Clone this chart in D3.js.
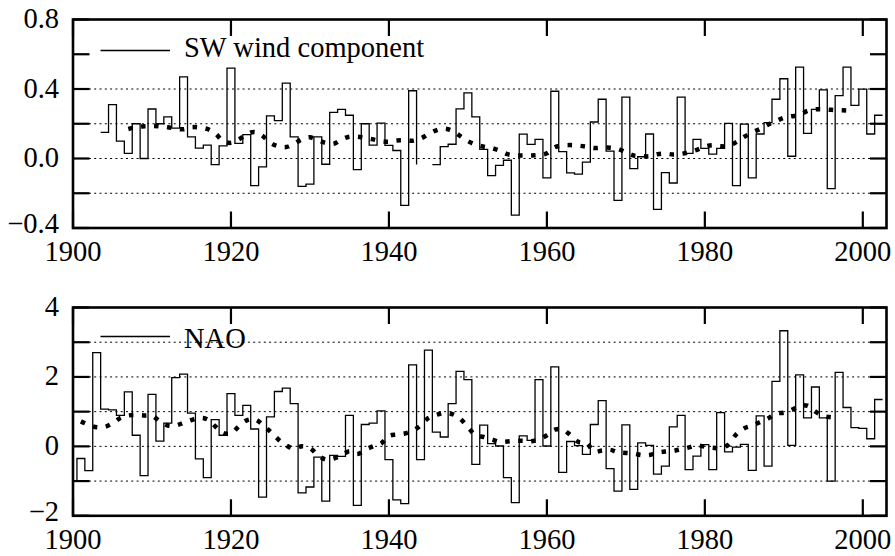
<!DOCTYPE html>
<html>
<head>
<meta charset="utf-8">
<script src="https://cdn.jsdelivr.net/npm/d3@7"></script>
<style>
  body { margin: 0; background: #fff; }
</style>
</head>
<body>
<script>
// yearly SW wind component (null = missing year)
const swStart = 1904;
const swValues = [
  0.15, 0.31, 0.10, 0.03, 0.20, 0.00, 0.285, 0.20, 0.24, 0.175,   // 1904-1913
  0.47, 0.125, 0.06, 0.077, -0.035, 0.073, 0.52, 0.087, 0.137, -0.156, // 1914-1923
  -0.048, 0.245, 0.218, 0.434, 0.125, -0.16, -0.148, 0.125, -0.033, 0.266, // 1924-1933
  0.283, 0.249, -0.064, 0.20, 0.077, 0.204, 0.075, 0.046, -0.27, 0.39, // 1934-1943
  null, null, -0.035, 0.068, 0.082, 0.286, 0.378, 0.24, 0.052, -0.099, // 1944-1953
  -0.04, -0.01, -0.326, 0.14, 0.081, 0.11, -0.112, 0.387, 0.04, -0.083, // 1954-1963
  -0.09, -0.021, 0.21, 0.341, 0.042, -0.241, 0.353, -0.058, 0.01, 0.141, // 1964-1973
  -0.293, -0.081, -0.141, 0.353, 0.029, 0.11, 0.058, 0.025, 0.058, 0.202, // 1974-1983
  -0.156, 0.198, -0.112, 0.141, 0.206, 0.341, 0.459, 0.013, 0.526, 0.145, // 1984-1993
  0.283, 0.395, -0.173, 0.362, 0.526, 0.306, 0.399, 0.141, 0.249        // 1994-2002
];

// smoothed SW wind component
const swSmoothStart = 1907;
const swSmooth = [
  0.17, 0.18, 0.185, 0.187, 0.185, 0.18, 0.172, 0.168, 0.18, 0.178,   // 1907-1916
  0.17, 0.145, 0.10, 0.09, 0.11, 0.14, 0.153, 0.13, 0.09, 0.07,       // 1917-1926
  0.066, 0.085, 0.11, 0.122, 0.105, 0.09, 0.085, 0.11, 0.125, 0.125,  // 1927-1936
  0.118, 0.11, 0.10, 0.097, 0.104, 0.105, 0.102, 0.115, 0.14, 0.162,  // 1937-1946
  0.172, 0.16, 0.13, 0.10, 0.08, 0.068, 0.06, 0.045, 0.025, 0.018,    // 1947-1956
  0.017, 0.017, 0.02, 0.03, 0.065, 0.075, 0.077, 0.074, 0.068, 0.06,  // 1957-1966
  0.062, 0.062, 0.055, 0.035, 0.017, 0.013, 0.013, 0.025, 0.028, 0.023, // 1967-1976
  0.027, 0.036, 0.05, 0.068, 0.077, 0.07, 0.072, 0.095, 0.125, 0.15,  // 1977-1986
  0.17, 0.195, 0.215, 0.235, 0.243, 0.25, 0.275, 0.283, 0.283, 0.28,  // 1987-1996
  0.278, 0.276, 0.275                                                 // 1997-1999
];

// yearly NAO index
const naoStart = 1900;
const naoValues = [
  -1.0, -0.35, -0.70, 2.70, 1.07, 1.05, 0.89, 1.57, 0.32, -0.84,      // 1900-1909
  1.50, 0.15, 0.67, 1.98, 2.08, 0.96, -0.36, -0.90, 0.77, 0.32,       // 1910-1919
  1.52, 0.89, 1.18, 0.50, -1.46, 0.85, 1.58, 1.68, 1.23, -1.34,       // 1920-1929
  -1.17, -0.31, -1.58, -0.26, -0.29, 0.89, -1.70, 0.63, 0.67, 1.02,   // 1930-1939
  -0.38, -1.54, -1.65, 2.35, -0.38, 2.77, 0.41, 0.27, 1.23, 2.16,     // 1940-1949
  1.92, -0.52, 0.61, 0.08, 0.01, -0.90, -1.62, 0.30, 0.17, 1.92,      // 1950-1959
  0.01, 2.29, -0.75, 0.14, 0.02, -0.23, 0.63, 1.32, -0.64, -1.29,     // 1960-1969
  0.62, -1.24, 0.10, 0.03, -0.80, -0.57, 0.56, 0.89, -0.67, -0.28,    // 1970-1979
  0.05, -0.67, 0.97, -0.16, -0.02, 0.06, -0.69, 0.88, -0.57, 1.87,    // 1980-1989
  3.33, 0.03, 2.06, 0.82, 1.71, 0.82, -1.00, 2.13, 1.12, 0.54,        // 1990-1999
  0.52, 0.22, 1.35                                                    // 2000-2002
];

// smoothed NAO
const naoSmoothStart = 1901;
const naoSmooth = [
  0.72, 0.62, 0.55, 0.56, 0.66, 0.82, 0.89, 0.90, 0.89, 0.88,         // 1901-1910
  0.72, 0.60, 0.60, 0.68, 0.76, 0.82, 0.78, 0.58, 0.39, 0.37,         // 1911-1920
  0.58, 0.75, 0.78, 0.63, 0.42, 0.20, 0.03, -0.07, 0.0, -0.05,        // 1921-1930
  -0.25, -0.38, -0.35, -0.26, -0.14, -0.22, -0.10, 0.0, 0.08, 0.30,   // 1931-1940
  0.34, 0.37, 0.45, 0.60, 0.82, 0.91, 0.96, 0.93, 0.80, 0.55,         // 1941-1950
  0.32, 0.27, 0.20, 0.13, 0.14, 0.16, 0.16, 0.15, 0.20, 0.32,         // 1951-1960
  0.48, 0.49, 0.32, 0.13, 0.10, -0.15, -0.12, -0.10, -0.17, -0.19,    // 1961-1970
  -0.21, -0.25, -0.25, -0.18, -0.15, -0.13, -0.08, -0.03, 0.03, -0.01, // 1971-1980
  -0.04, -0.05, 0.05, 0.35, 0.52, 0.60, 0.70, 0.80, 0.95, 0.97,       // 1981-1990
  1.05, 1.17, 1.17, 1.00, 0.87, 0.84, 0.82                            // 1991-1997
];

const xTicks = [1900, 1920, 1940, 1960, 1980, 2000];
const swTicks = [-0.4, -0.2, 0.0, 0.2, 0.4, 0.6, 0.8];
const swTickLabels = [-0.4, 0.0, 0.4, 0.8];
const swGrid = [-0.2, 0.0, 0.2, 0.4];
const naoTicks = [-2, -1, 0, 1, 2, 3, 4];
const naoTickLabels = [-2, 0, 2, 4];
const naoGrid = [-1, 0, 1, 2, 3];

const width = 895, height = 556;
const left = 73, right = 886.5;
const serif = "Liberation Serif";
const fontSize = 28.5;

const svg = d3.select("body").append("svg")
    .attr("width", width)
    .attr("height", height);

const x = d3.scaleLinear().domain([1900, 2003]).range([left, right]);

function toPoints(start, values) {
  return values.map((v, i) => ({year: start + i, value: v}));
}

// gnuplot-like histeps path, vertical drop before a gap, then restart
function stepPath(points, y) {
  let p = "";
  let prev = null;
  points.forEach(d => {
    if (d.value === null) return;
    const x0 = x(d.year - 0.5), x1 = x(d.year + 0.5), yy = y(d.value);
    if (prev === null) {
      p += "M" + x0 + "," + yy;
    } else if (d.year === prev.year + 1) {
      p += "V" + yy;
    } else {
      p += "V" + yy + "M" + x0 + "," + yy;
    }
    p += "H" + x1;
    prev = d;
  });
  return p;
}

function drawPanel(opts) {
  const top = opts.top, bottom = opts.bottom;
  const y = d3.scaleLinear().domain(opts.domain).range([bottom, top]);
  const g = svg.append("g");

  const clipId = "clip" + opts.name;
  svg.append("clipPath").attr("id", clipId)
    .append("rect")
      .attr("x", left).attr("y", top)
      .attr("width", right - left).attr("height", bottom - top);

  // dotted grid
  g.append("g").selectAll("line")
      .data(opts.grid)
      .enter()
      .append("line")
        .attr("x1", left).attr("x2", right)
        .attr("y1", d => y(d)).attr("y2", d => y(d))
        .attr("stroke", "#000")
        .attr("stroke-width", 1)
        .attr("stroke-dasharray", "2,3.3");

  // step series
  g.append("path")
      .attr("d", stepPath(toPoints(opts.start, opts.values), y))
      .attr("clip-path", "url(#" + clipId + ")")
      .attr("fill", "none")
      .attr("stroke", "#000")
      .attr("stroke-width", 1.3);

  // smoothed, thick dotted
  const line = d3.line()
      .x(d => x(d.year))
      .y(d => y(d.value))
      .curve(d3.curveCatmullRom);
  g.append("path")
      .attr("d", line(toPoints(opts.smoothStart, opts.smooth)))
      .attr("fill", "none")
      .attr("stroke", "#000")
      .attr("stroke-width", 4.5)
      .attr("stroke-dasharray", "4.5,8.5");

  // legend
  g.append("line")
      .attr("x1", 100.5).attr("x2", 170)
      .attr("y1", top + opts.legendDy).attr("y2", top + opts.legendDy)
      .attr("stroke", "#000")
      .attr("stroke-width", 1.3);
  g.append("text")
      .attr("x", 184)
      .attr("y", top + opts.legendTextDy)
      .attr("font-family", serif)
      .attr("font-size", fontSize)
      .text(opts.label);

  // ticks, inward on all four sides
  const tl = 16.5;
  const ticks = g.append("g").attr("stroke", "#000").attr("stroke-width", 2.2);
  opts.ticks.forEach(t => {
    ticks.append("line").attr("x1", left).attr("x2", left + tl)
        .attr("y1", y(t)).attr("y2", y(t));
    ticks.append("line").attr("x1", right - tl).attr("x2", right)
        .attr("y1", y(t)).attr("y2", y(t));
  });
  xTicks.forEach(t => {
    ticks.append("line").attr("x1", x(t)).attr("x2", x(t))
        .attr("y1", bottom).attr("y2", bottom - tl);
    ticks.append("line").attr("x1", x(t)).attr("x2", x(t))
        .attr("y1", top).attr("y2", top + tl);
  });

  // frame
  g.append("rect")
      .attr("x", left).attr("y", top)
      .attr("width", right - left).attr("height", bottom - top)
      .attr("fill", "none")
      .attr("stroke", "#000")
      .attr("stroke-width", 2.6);

  // tick labels (lowest one sits a little higher, as in the original)
  const lowest = opts.domain[0];
  g.append("g").selectAll("text")
      .data(opts.tickLabels)
      .enter()
      .append("text")
        .attr("x", 59)
        .attr("y", d => y(d) + (d === lowest ? 5 : 8.5))
        .attr("text-anchor", "end")
        .attr("font-family", serif)
        .attr("font-size", fontSize)
        .text(opts.fmt);
  g.append("g").selectAll("text")
      .data(xTicks)
      .enter()
      .append("text")
        .attr("x", d => x(d))
        .attr("y", bottom + 33)
        .attr("text-anchor", "middle")
        .attr("font-family", serif)
        .attr("font-size", fontSize)
        .text(d => d);
}

drawPanel({
  name: "sw", top: 19.5, bottom: 228, domain: [-0.4, 0.8],
  start: swStart, values: swValues,
  smoothStart: swSmoothStart, smooth: swSmooth,
  grid: swGrid, ticks: swTicks, tickLabels: swTickLabels,
  fmt: d3.format(".1f"), label: "SW wind component",
  legendDy: 31, legendTextDy: 37.2
});

drawPanel({
  name: "nao", top: 307.5, bottom: 515.8, domain: [-2, 4],
  start: naoStart, values: naoValues,
  smoothStart: naoSmoothStart, smooth: naoSmooth,
  grid: naoGrid, ticks: naoTicks, tickLabels: naoTickLabels,
  fmt: d3.format("d"), label: "NAO",
  legendDy: 29, legendTextDy: 40.8
});
</script>
</body>
</html>
